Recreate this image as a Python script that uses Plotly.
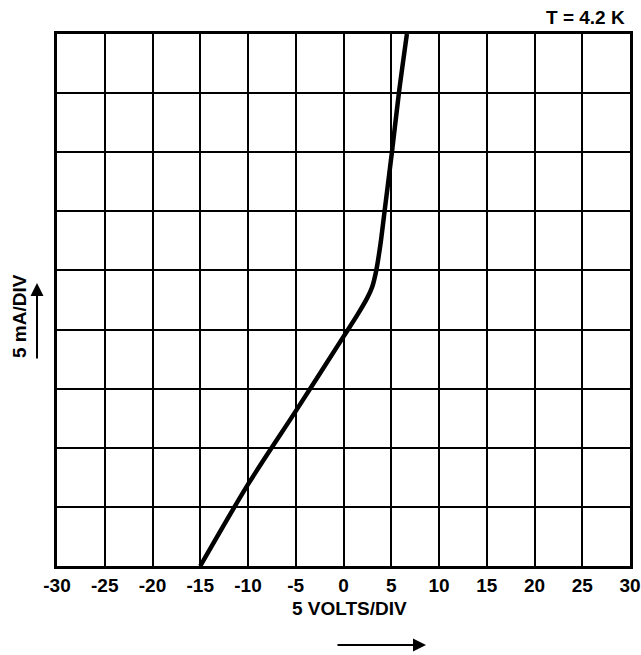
import plotly.graph_objects as go

# I-V curve at 4.2 K: voltage (V) and current (mA, 5 mA per division)
volts = [-15, -10, -5, 0, 1.5, 2.5, 3.0, 3.43, 3.9, 4.3, 5.07, 5.8, 6.64]
current_ma = [0, 6.9, 13.1, 19.4, 21.3, 22.7, 23.6, 25.0, 27.4, 30.0, 35.0, 40.0, 45.0]

x_ticks = [-30, -25, -20, -15, -10, -5, 0, 5, 10, 15, 20, 25, 30]
x_tick_text = ["-30", "-25", "-20", "-15", "-10", "-5", "0", "5", "10", "15", "20", "25", "30"]

FONT = "Liberation Sans"

fig = go.Figure()
fig.add_trace(go.Scatter(
    x=volts, y=current_ma, mode="lines",
    line=dict(color="black", width=4.5, shape="spline", smoothing=0.8),
    showlegend=False, hoverinfo="skip",
))

L, T, R, B = 57, 34, 630, 566
PW, PH = R - L, B - T

fig.update_layout(
    width=641, height=655,
    margin=dict(l=L, r=641 - R, t=T, b=655 - B, autoexpand=False),
    paper_bgcolor="white", plot_bgcolor="white",
    font=dict(family=FONT, color="black"),
    xaxis=dict(
        range=[-30, 30], tickvals=x_ticks, ticktext=x_tick_text,
        showgrid=True, gridcolor="black", gridwidth=2,
        showline=True, linecolor="black", linewidth=3, mirror=True,
        zeroline=False, ticks="", ticklen=0,
        tickfont=dict(family=FONT, size=19, color="black", weight="bold"),
        fixedrange=True, automargin=False,
    ),
    yaxis=dict(
        range=[0, 45], dtick=5,
        showgrid=True, gridcolor="black", gridwidth=2,
        showline=True, linecolor="black", linewidth=3, mirror=True,
        zeroline=False, ticks="", showticklabels=False,
        fixedrange=True, automargin=False,
    ),
    annotations=[
        dict(text="T = 4.2 K", xref="paper", yref="paper", x=(627 - L) / PW, y=(B - 17) / PH,
             xanchor="right", yanchor="middle", showarrow=False,
             font=dict(family=FONT, size=19, color="black", weight="bold")),
        dict(text="5 VOLTS/DIV", xref="paper", yref="paper", x=(349 - L) / PW, y=(B - 608) / PH,
             xanchor="center", yanchor="middle", showarrow=False,
             font=dict(family=FONT, size=19, color="black", weight="bold")),
        dict(text="5 mA/DIV", xref="paper", yref="paper", x=(19 - L) / PW, y=(B - 316) / PH,
             xanchor="center", yanchor="middle", showarrow=False, textangle=-90,
             font=dict(family=FONT, size=19, color="black", weight="bold")),
        dict(text="", xref="paper", yref="paper", x=(426 - L) / PW, y=(B - 645) / PH,
             axref="pixel", ayref="pixel", ax=-90, ay=0, showarrow=True,
             arrowhead=2, arrowsize=1.3, arrowwidth=2, arrowcolor="black"),
        dict(text="", xref="paper", yref="paper", x=(37 - L) / PW, y=(B - 283) / PH,
             axref="pixel", ayref="pixel", ax=0, ay=77, showarrow=True,
             arrowhead=2, arrowsize=1.3, arrowwidth=2, arrowcolor="black"),
    ],
)

fig.write_html("out.html", config={"displayModeBar": False},
               post_script="document.body.style.margin='0';document.body.style.overflow='hidden';")
